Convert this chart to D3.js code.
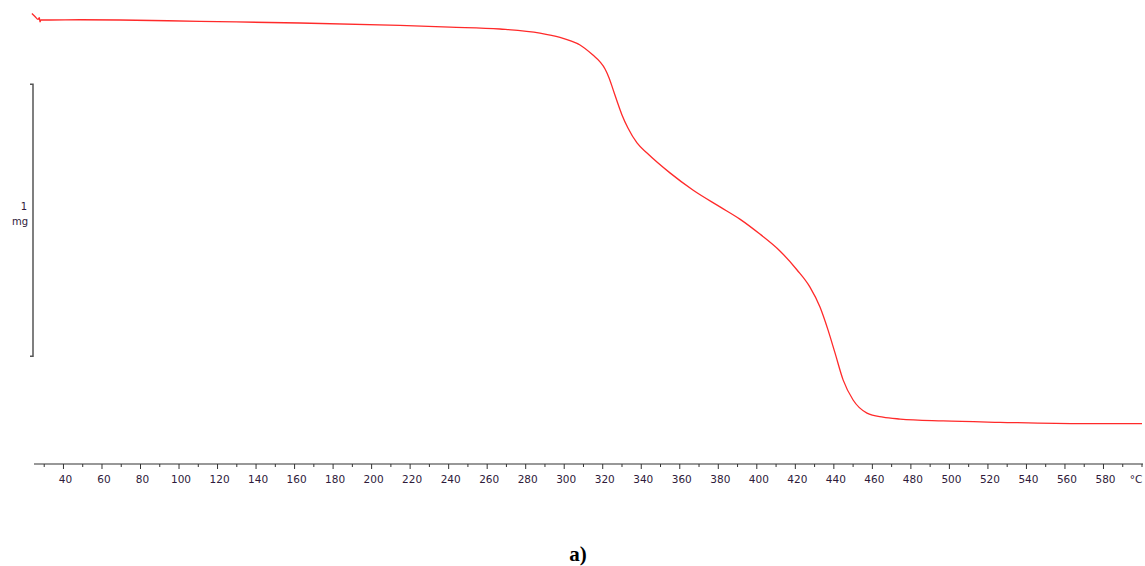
<!DOCTYPE html>
<html>
<head>
<meta charset="utf-8">
<script src="https://cdn.jsdelivr.net/npm/d3@7"></script>
<style>
  html, body { margin: 0; padding: 0; background: #fff; }
  svg { display: block; }
</style>
</head>
<body>
<svg id="chart" width="1145" height="566"></svg>
<script>
// Temperature (°C) and sample mass (mg)
const temperature = [23.6, 25.2, 26.8, 27.5, 27.8, 28.3, 33.0, 48.6, 69.3, 110.9, 162.8, 214.7, 240.7, 266.6, 287.4, 297.8, 303.0, 308.2, 314.9, 318.6, 321.2, 323.3, 325.3, 327.4, 330.0, 333.1, 337.8, 343.0, 354.9, 366.8, 380.9, 391.2, 401.6, 412.0, 420.9, 427.6, 432.8, 437.0, 440.6, 444.8, 450.0, 457.2, 465.5, 474.4, 496.7, 526.3, 569.4, 600.0];
const mass = [1.660, 1.649, 1.638, 1.645, 1.629, 1.636, 1.636, 1.637, 1.636, 1.631, 1.625, 1.616, 1.610, 1.603, 1.588, 1.572, 1.560, 1.544, 1.507, 1.482, 1.456, 1.423, 1.382, 1.338, 1.287, 1.239, 1.184, 1.147, 1.074, 1.011, 0.949, 0.904, 0.849, 0.787, 0.717, 0.654, 0.581, 0.496, 0.412, 0.313, 0.239, 0.191, 0.176, 0.169, 0.162, 0.157, 0.152, 0.152];
const majorTicks = [40, 60, 80, 100, 120, 140, 160, 180, 200, 220, 240, 260, 280, 300, 320, 340, 360, 380, 400, 420, 440, 460, 480, 500, 520, 540, 560, 580];
const minorTicks = [30, 50, 70, 90, 110, 130, 150, 170, 190, 210, 230, 250, 270, 290, 310, 330, 350, 370, 390, 410, 430, 450, 470, 490, 510, 530, 550, 570, 590, 600];
const unitLabel = "°C";
const scaleBar = [0.4, 1.4];   // mg
const scaleBarLabel = ["1", "mg"];
const panelLabel = "a)";

const svg = d3.select("#chart");
const x = d3.scaleLinear().domain([24.7, 600]).range([34, 1142]);
const y = d3.scaleLinear().domain([0, 1.7]).range([465, 465 - 272 * 1.7]);

const axisY = 464;
const labelColor = "#2e1a3a";

// x axis
const axisG = svg.append("g").attr("transform", `translate(0,${axisY})`);
axisG.append("line")
  .attr("x1", 34).attr("x2", 1143).attr("y1", 0).attr("y2", 0)
  .attr("stroke", "#333").attr("stroke-width", 1.2);
axisG.selectAll("line.minor").data(minorTicks).enter().append("line")
  .attr("class", "minor")
  .attr("x1", d => x(d)).attr("x2", d => x(d))
  .attr("y1", 0).attr("y2", 3)
  .attr("stroke", "#333").attr("stroke-width", 1);
axisG.selectAll("line.major").data(majorTicks).enter().append("line")
  .attr("class", "major")
  .attr("x1", d => x(d)).attr("x2", d => x(d))
  .attr("y1", 0).attr("y2", 5)
  .attr("stroke", "#333").attr("stroke-width", 1);
axisG.selectAll("text.tl").data(majorTicks).enter().append("text")
  .attr("class", "tl")
  .attr("x", d => x(d) + 2)
  .attr("y", 19)
  .attr("text-anchor", "middle")
  .attr("font-family", "DejaVu Sans, Verdana, sans-serif")
  .attr("font-size", 10.5)
  .attr("fill", labelColor)
  .text(d => d);
axisG.append("text")
  .attr("x", x(600) - 6)
  .attr("y", 19)
  .attr("text-anchor", "middle")
  .attr("font-family", "DejaVu Sans, Verdana, sans-serif")
  .attr("font-size", 10.5)
  .attr("fill", labelColor)
  .text(unitLabel);

// scale bar (1 mg)
const sbX = 33;
const sb = svg.append("g");
sb.append("path")
  .attr("d", `M${sbX - 3},${y(scaleBar[1])} H${sbX} V${y(scaleBar[0])} H${sbX - 3}`)
  .attr("fill", "none").attr("stroke", "#555").attr("stroke-width", 1.5);
sb.append("text")
  .attr("x", 27).attr("y", 210)
  .attr("text-anchor", "end")
  .attr("font-family", "DejaVu Sans, Verdana, sans-serif")
  .attr("font-size", 10)
  .attr("fill", labelColor)
  .text(scaleBarLabel[0]);
sb.append("text")
  .attr("x", 28).attr("y", 225)
  .attr("text-anchor", "end")
  .attr("font-family", "DejaVu Sans, Verdana, sans-serif")
  .attr("font-size", 10)
  .attr("fill", labelColor)
  .text(scaleBarLabel[1]);

// curve
const pts = temperature.map((t, i) => [t, mass[i]]);
const line = d3.line()
  .x(d => x(d[0]))
  .y(d => y(d[1]))
  .curve(d3.curveMonotoneX);
svg.append("path")
  .datum(pts)
  .attr("d", line)
  .attr("fill", "none")
  .attr("stroke", "#ff2a2a")
  .attr("stroke-width", 1.3);

// panel label
svg.append("text")
  .attr("x", 578).attr("y", 561)
  .attr("text-anchor", "middle")
  .attr("font-family", "Liberation Serif, Times New Roman, serif")
  .attr("font-weight", "bold")
  .attr("font-size", 21)
  .attr("fill", "#000")
  .text(panelLabel);
</script>
</body>
</html>
